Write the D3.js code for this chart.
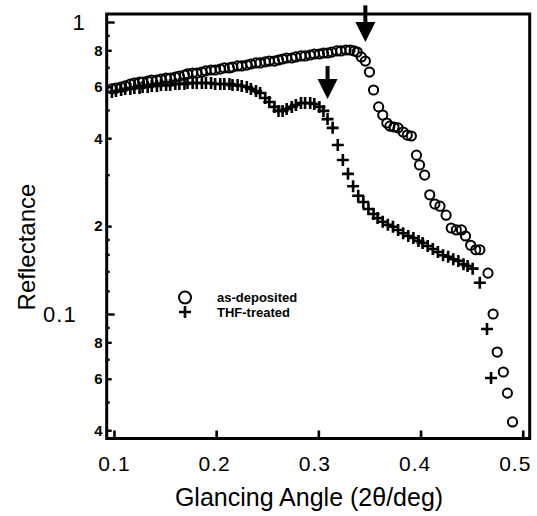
<!DOCTYPE html>
<html><head><meta charset="utf-8">
<script src="https://cdn.jsdelivr.net/npm/d3@7"></script>
<style>
body{margin:0;background:#fff;}
svg{display:block;font-family:"Liberation Sans",Arial,Helvetica,sans-serif;}
</style></head><body>
<svg id="chart" width="537" height="516"></svg>
<script>
// ---- data ----
const seriesNames = ["as-deposited", "THF-treated"];

const adX = [0.098,0.102,0.107,0.111,0.116,0.120,0.125,0.128,0.133,0.137,0.142,0.146,0.151,0.155,0.160,0.164,0.169,0.172,0.177,0.181,
  0.186,0.190,0.195,0.199,0.204,0.208,0.213,0.216,0.221,0.225,0.230,0.234,0.239,0.243,0.248,0.252,0.257,0.261,0.265,0.269,
  0.274,0.278,0.283,0.287,0.292,0.296,0.301,0.305,0.309,0.313,0.318,0.322,0.327,0.331,0.335,
  0.338,0.342,0.346,0.350,0.354,0.359,0.363,0.367,0.370,0.374,0.378,0.383,0.387,0.391,0.396,0.399,0.404,0.409,0.414,0.419,
  0.425,0.430,0.435,0.440,0.444,0.449,0.454,0.458,0.466,0.471,0.475,0.481,0.485,0.490];
const adY = [0.590,0.594,0.599,0.604,0.613,0.618,0.623,0.623,0.628,0.633,0.633,0.638,0.643,0.643,0.648,0.653,0.658,0.664,0.669,0.669,
  0.674,0.680,0.685,0.685,0.690,0.696,0.696,0.701,0.707,0.707,0.712,0.718,0.724,0.724,0.730,0.735,0.735,0.741,0.747,0.753,
  0.753,0.759,0.765,0.765,0.771,0.777,0.777,0.783,0.783,0.789,0.796,0.796,0.802,0.802,0.796,
  0.789,0.759,0.735,0.674,0.585,0.512,0.480,0.451,0.440,0.437,0.434,0.420,0.410,0.407,0.350,0.324,0.299,0.256,0.238,0.234,
  0.218,0.197,0.194,0.194,0.185,0.172,0.166,0.166,0.138,0.100,0.0741,0.0633,0.0536,0.0427];

const thfX = [0.098,0.102,0.107,0.111,0.116,0.120,0.125,0.128,0.133,0.137,0.142,0.146,0.151,0.155,0.160,0.164,0.169,0.172,0.177,0.181,
  0.186,0.190,0.195,0.199,0.204,0.208,0.213,0.216,0.221,0.225,0.230,0.234,0.239,0.243,0.248,0.252,0.257,0.261,0.265,0.269,
  0.274,0.278,0.283,0.287,0.292,0.296,0.301,0.305,0.309,0.314,0.319,0.324,0.329,0.334,0.339,0.344,0.349,0.354,0.358,0.363,
  0.368,0.373,0.378,0.383,0.388,0.393,0.398,0.402,0.407,0.412,0.417,0.422,0.427,0.432,0.437,0.442,0.446,0.451,0.458,0.465,0.469];
const thfY = [0.576,0.580,0.585,0.590,0.590,0.594,0.594,0.599,0.599,0.604,0.604,0.608,0.608,0.608,0.613,0.613,0.613,0.618,0.618,0.618,
  0.618,0.618,0.618,0.613,0.613,0.613,0.613,0.608,0.608,0.604,0.599,0.590,0.580,0.571,0.549,0.532,0.512,0.496,0.496,0.504,
  0.512,0.520,0.528,0.528,0.528,0.524,0.512,0.496,0.465,0.434,0.379,0.337,0.302,0.274,0.254,0.242,0.229,0.220,0.213,0.207,
  0.202,0.199,0.194,0.189,0.185,0.182,0.178,0.175,0.171,0.167,0.163,0.159,0.157,0.154,0.152,0.148,0.146,0.143,0.128,0.0888,0.0604];

const xTicks = [0.1, 0.2, 0.3, 0.4, 0.5];
const yMajorTicks = [1, 0.1];
const yLabelTicks = [0.8, 0.6, 0.4, 0.2, 0.08, 0.06, 0.04];
const yMinorTicks = [0.9, 0.7, 0.5, 0.3, 0.18, 0.16, 0.14, 0.12, 0.09, 0.07, 0.05];
const arrowX = [0.346, 0.309];
const arrowTailY = [1.14, 0.707];
const arrowTipY = [0.854, 0.545];
const xTitle = "Glancing Angle (2θ/deg)";
const yTitle = "Reflectance";

// ---- layout ----
const L = 106.7, R = 529.7, T = 14, B = 438.5;
const svg = d3.select("#chart");
svg.append("rect").attr("width", 537).attr("height", 516).attr("fill", "#fff");

const x = d3.scaleLinear().domain([0.0929, 0.5068]).range([L, R]);
const y = d3.scaleLog().domain([0.03747, 1.0651]).range([B, T]);

// x axis
const gx = svg.append("g").attr("transform", `translate(0,${B})`)
  .call(d3.axisBottom(x).tickValues(xTicks).tickSize(-8).tickPadding(18).tickFormat(d3.format(".1f")));
gx.select(".domain").remove();
gx.selectAll("line").attr("stroke", "#000").attr("stroke-width", 2.6);
gx.selectAll("text").attr("font-size", 21).attr("letter-spacing", 1).attr("fill", "#000")
  .attr("dx", d => -(d - 0.1) * 20);

// y axes
function yAxis(vals, size, pad, fmt, fs, bold) {
  const g = svg.append("g").attr("transform", `translate(${L},0)`)
    .call(d3.axisLeft(y).tickValues(vals).tickSize(-size).tickPadding(pad).tickFormat(fmt));
  g.select(".domain").remove();
  g.selectAll("line").attr("stroke", "#000").attr("stroke-width", 2.4);
  g.selectAll("text").attr("font-size", fs).attr("font-weight", bold ? "bold" : "normal").attr("fill", "#000");
  return g;
}
const gMaj = yAxis(yMajorTicks, 8, 22, d => d === 1 ? "1" : "0.1", 22, false);
gMaj.selectAll("text").attr("x", d => d === 1 ? -22 : -30).attr("letter-spacing", d => d === 1 ? 0 : 1);
yAxis(yLabelTicks, 5, 4, d => String(Math.round(d / Math.pow(10, Math.floor(Math.log10(d) + 1e-9)))), 15, true);
yAxis(yMinorTicks, 3, 0, () => "", 10, false);

// frame
svg.append("rect").attr("x", L).attr("y", T).attr("width", R - L).attr("height", B - T)
  .attr("fill", "none").attr("stroke", "#000").attr("stroke-width", 3);

// series
const ad = adX.map((v, i) => ({ x: v, y: adY[i] }));
const thf = thfX.map((v, i) => ({ x: v, y: thfY[i] }));
const plusPath = "M-6,0H6M0,-6V6";

svg.append("g").selectAll("circle").data(ad).join("circle")
  .attr("cx", d => x(d.x)).attr("cy", d => y(d.y)).attr("r", 4.6)
  .attr("fill", "none").attr("stroke", "#000").attr("stroke-width", 2);
svg.append("g").selectAll("path").data(thf).join("path")
  .attr("transform", d => `translate(${x(d.x)},${y(d.y)})`).attr("d", plusPath)
  .attr("stroke", "#000").attr("stroke-width", 2.6).attr("fill", "none");

// arrows
arrowX.forEach((ax, i) => {
  const px = x(ax), tip = y(arrowTipY[i]), tail = y(arrowTailY[i]);
  const headLen = 20, headW = 10;
  svg.append("line").attr("x1", px).attr("x2", px).attr("y1", tail).attr("y2", tip - headLen + 1)
    .attr("stroke", "#000").attr("stroke-width", 4);
  svg.append("path").attr("d", `M${px - headW},${tip - headLen}L${px + headW},${tip - headLen}L${px},${tip}Z`)
    .attr("fill", "#000");
});

// legend
const leg = svg.append("g");
leg.append("circle").attr("cx", 185).attr("cy", 297.5).attr("r", 6).attr("fill", "none").attr("stroke", "#000").attr("stroke-width", 2);
leg.append("path").attr("transform", "translate(185,312)").attr("d", plusPath).attr("stroke", "#000").attr("stroke-width", 2.6);
leg.selectAll("text").data(seriesNames).join("text")
  .attr("x", 217).attr("y", (d, i) => 302 + i * 15)
  .attr("font-size", 13).attr("font-weight", "bold").text(d => d);

// titles
svg.append("text").attr("x", 309).attr("y", 506).attr("text-anchor", "middle")
  .attr("font-size", 25).text(xTitle);
svg.append("text").attr("transform", "translate(35,247) rotate(-90)").attr("text-anchor", "middle")
  .attr("font-size", 24).text(yTitle);
</script>
</body></html>
